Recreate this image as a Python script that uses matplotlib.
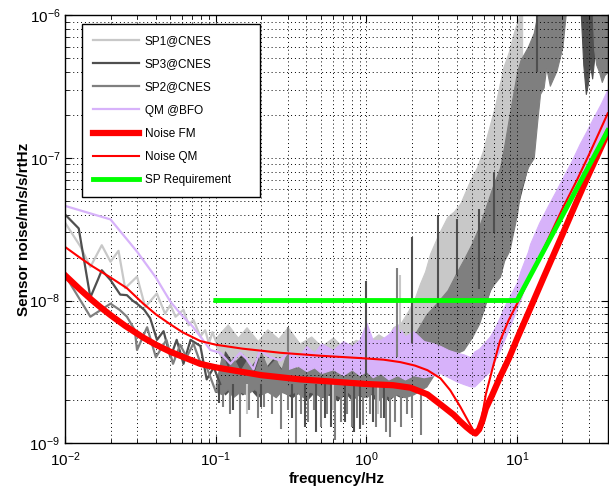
import numpy as np
import matplotlib
matplotlib.use("Agg")
import matplotlib.pyplot as plt
from matplotlib.ticker import NullFormatter, FixedLocator

plt.rcParams['font.family'] = ['Liberation Sans', 'DejaVu Sans']
plt.rcParams['mathtext.default'] = 'regular'

# ---- SP1 @ CNES (light grey) ----
sp1_f_low = [0.010, 0.0126, 0.0147, 0.0175, 0.020, 0.0226, 0.025, 0.030, 0.034, 0.0406,
             0.046, 0.050, 0.054, 0.061, 0.066, 0.071, 0.079, 0.085, 0.090, 0.095, 0.100]
sp1_v_low = [3.5e-8, 2.4e-8, 1.72e-8, 2.44e-8, 1.87e-8, 2.23e-8, 1.22e-8, 1.47e-8, 9.0e-9, 1.12e-8,
             8.1e-9, 9.3e-9, 7.7e-9, 8.6e-9, 6.7e-9, 7.3e-9, 5.6e-9, 6.2e-9, 5.0e-9, 6.0e-9, 5.2e-9]
sp1_f_band = [0.10, 0.12, 0.14, 0.16, 0.19, 0.22, 0.26, 0.30, 0.36, 0.43, 0.5, 0.6, 0.7, 0.85,
              1.0, 1.2, 1.37, 1.5, 1.68, 1.9, 2.1, 2.27, 2.45, 2.65, 3.0, 3.45, 3.8, 4.2, 4.9,
              5.4, 5.9, 6.5, 7.2, 8.1, 8.8, 9.5, 10.2, 10.8]
sp1_band_hi = [5.5e-9, 6.8e-9, 5.5e-9, 6.5e-9, 5.2e-9, 6.3e-9, 5.4e-9, 6.5e-9, 5.0e-9, 5.6e-9,
               4.8e-9, 5.5e-9, 4.7e-9, 5.3e-9, 5.0e-9, 5.8e-9, 5.3e-9, 6.5e-9, 6.9e-9, 8.5e-9,
               1.05e-8, 1.32e-8, 1.6e-8, 2.14e-8, 2.9e-8, 3.87e-8, 4.2e-8, 4.8e-8, 7.0e-8,
               8.5e-8, 1.1e-7, 1.6e-7, 2.4e-7, 4.3e-7, 5.5e-7, 7.5e-7, 9.5e-7, 1.2e-6]
sp1_band_lo = [4.8e-9, 3.0e-9, 3.1e-9, 2.9e-9, 3.0e-9, 2.8e-9, 2.9e-9, 2.7e-9, 2.8e-9, 2.6e-9,
               2.7e-9, 2.6e-9, 2.5e-9, 2.6e-9, 2.5e-9, 2.6e-9, 2.5e-9, 2.6e-9, 2.8e-9, 3.0e-9,
               3.2e-9, 3.4e-9, 3.6e-9, 4.0e-9, 4.6e-9, 5.5e-9, 6.5e-9, 7.5e-9, 1.0e-8,
               1.2e-8, 1.5e-8, 2.0e-8, 2.8e-8, 4.0e-8, 5.5e-8, 8.0e-8, 1.1e-7, 1.5e-7]
sp1_spike_f = [1.68, 0.16, 0.6, 1.2]
sp1_spike_lo = [6.0e-9, 1.6e-9, 1.7e-9, 1.6e-9]
sp1_spike_hi = [1.5e-8, 2.6e-9, 2.6e-9, 2.6e-9]

# ---- SP3 @ CNES (dark grey) ----
sp3_f_low = [0.010, 0.0123, 0.0147, 0.0165, 0.0175, 0.020, 0.0232, 0.0257, 0.028, 0.030, 0.0335,
             0.0367, 0.0407, 0.045, 0.050, 0.055, 0.061, 0.068, 0.079, 0.087, 0.097, 0.107]
sp3_v_low = [4.0e-8, 3.2e-8, 1.05e-8, 1.4e-8, 1.63e-8, 1.39e-8, 1.1e-8, 1.09e-8, 1.0e-8, 9.5e-9,
             8.6e-9, 7.5e-9, 5.3e-9, 6.1e-9, 4.0e-9, 5.3e-9, 3.6e-9, 5.3e-9, 4.8e-9, 2.8e-9,
             3.4e-9, 2.6e-9]
sp3_f_band = [0.107, 0.115, 0.13, 0.15, 0.17, 0.19, 0.21, 0.24, 0.28, 0.32, 0.36, 0.40, 0.45,
              0.50, 0.56, 0.64, 0.72, 0.80, 0.88, 0.95, 1.05, 1.15, 1.28, 1.4, 1.55, 1.7, 1.9,
              2.2, 2.6, 3.0, 3.5, 4.0, 4.6, 5.2, 6.0, 7.0, 8.0, 9.0, 10.0, 12.0, 14.0, 17.0,
              21.0, 26.0, 26.5, 27.5, 28.6, 29.5, 30.5, 31.5, 32.5, 34.0, 36.0, 40.0]
sp3_band_lo = [2.5e-9, 2.2e-9, 2.5e-9, 2.2e-9, 2.4e-9, 2.1e-9, 2.4e-9, 2.2e-9, 2.3e-9, 2.1e-9,
               2.3e-9, 2.0e-9, 2.3e-9, 2.1e-9, 2.2e-9, 2.0e-9, 2.3e-9, 2.0e-9, 2.2e-9, 2.1e-9,
               2.3e-9, 2.0e-9, 2.2e-9, 2.0e-9, 2.2e-9, 2.1e-9, 2.2e-9, 2.4e-9, 2.8e-9, 3.3e-9,
               4.0e-9, 4.8e-9, 6.0e-9, 7.0e-9, 9.0e-9, 1.4e-8, 1.9e-8, 2.6e-8, 4.5e-8, 9.5e-8,
               3.5e-7, 5.0e-7, 1.2e-6, 2.0e-6, 1.0e-6, 4.5e-7, 2.8e-7, 3.3e-7, 4.5e-7, 3.6e-7,
               5.0e-7, 6.0e-7, 1.0e-6, 2.0e-6]
sp3_band_hi = [2.9e-9, 4.4e-9, 3.6e-9, 4.2e-9, 3.4e-9, 4.0e-9, 3.3e-9, 3.9e-9, 3.2e-9, 3.7e-9,
               3.1e-9, 3.6e-9, 3.0e-9, 3.5e-9, 3.0e-9, 3.4e-9, 2.9e-9, 3.4e-9, 3.0e-9, 3.3e-9,
               3.0e-9, 3.5e-9, 3.1e-9, 3.6e-9, 3.3e-9, 3.8e-9, 4.2e-9, 5.5e-9, 7.5e-9, 8.5e-9,
               1.1e-8, 1.4e-8, 1.8e-8, 2.3e-8, 3.4e-8, 5.5e-8, 9.0e-8, 1.5e-7, 3.0e-7, 5.5e-7,
               1.0e-6, 3e-6, 3e-6, 3e-6, 3e-6, 3e-6, 3e-6, 3e-6, 3e-6, 3e-6,
               3e-6, 3e-6, 3e-6, 3e-6]
sp3_spike_f = [1.0, 2.0, 3.0, 4.0, 5.6, 7.0, 13.6,
               0.105, 0.13, 0.2, 0.32, 0.39, 0.46, 0.53, 0.58, 0.72, 0.83, 0.91, 1.1, 1.3]
sp3_spike_lo = [3.0e-9, 5.0e-9, 9.0e-9, 1.5e-8, 1.2e-8, 3.0e-8, 4.0e-7,
                1.9e-9, 1.7e-9, 1.8e-9, 1.5e-9, 1.3e-9, 1.2e-9, 1.5e-9, 1.3e-9, 1.4e-9, 1.2e-9,
                1.25e-9, 1.4e-9, 1.5e-9]
sp3_spike_hi = [1.38e-8, 2.8e-8, 4.0e-8, 3.7e-8, 4.4e-8, 8.0e-8, 1.0e-6,
                2.6e-9, 2.6e-9, 2.6e-9, 2.6e-9, 2.6e-9, 2.6e-9, 2.6e-9, 2.6e-9, 2.6e-9, 2.6e-9,
                2.6e-9, 2.6e-9, 2.6e-9]

# ---- SP2 @ CNES (medium grey) ----
sp2_f_low = [0.010, 0.0147, 0.017, 0.020, 0.023, 0.0257, 0.029, 0.030, 0.035, 0.040, 0.047,
             0.052, 0.058, 0.064, 0.071, 0.078, 0.087, 0.100]
sp2_v_low = [1.5e-8, 7.7e-9, 8.5e-9, 9.5e-9, 8.6e-9, 7.7e-9, 6.2e-9, 4.5e-9, 6.5e-9, 4.0e-9,
             5.3e-9, 3.6e-9, 4.9e-9, 4.0e-9, 5.0e-9, 3.8e-9, 3.4e-9, 2.3e-9]
sp2_f_band = [0.10, 0.11, 0.12, 0.13, 0.145, 0.16, 0.18, 0.20, 0.22, 0.25, 0.27, 0.30, 0.34,
              0.38, 0.42, 0.47, 0.52, 0.58, 0.62, 0.68, 0.75, 0.82, 0.9, 1.0, 1.1, 1.2, 1.32,
              1.44, 1.6, 1.8, 2.05, 2.5, 2.9, 3.45, 4.0, 4.4, 5.0, 5.6, 6.6, 7.0, 7.7, 8.2,
              8.9, 10.0, 10.5, 11.8, 12.9, 13.6, 14.2, 15.0, 15.6, 16.5, 18.3, 20.0, 21.0,
              22.0, 31.0, 32.5, 33.5, 35.0, 36.5, 38.0, 40.0]
sp2_band_lo = [2.3e-9, 2.2e-9, 2.4e-9, 2.1e-9, 2.3e-9, 2.2e-9, 2.4e-9, 2.2e-9, 2.3e-9, 2.1e-9,
               2.3e-9, 2.2e-9, 2.3e-9, 2.1e-9, 2.3e-9, 2.2e-9, 2.1e-9, 2.3e-9, 2.2e-9, 2.1e-9,
               2.3e-9, 2.1e-9, 2.2e-9, 2.1e-9, 2.3e-9, 2.0e-9, 2.2e-9, 2.1e-9, 2.2e-9, 2.1e-9,
               2.2e-9, 2.5e-9, 3.2e-9, 4.0e-9, 4.3e-9, 4.5e-9, 5.5e-9, 6.9e-9, 1.18e-8, 1.3e-8,
               1.47e-8, 1.9e-8, 2.25e-8, 4.07e-8, 5.9e-8, 8.6e-8, 1.0e-7, 1.8e-7, 2.8e-7, 3.1e-7,
               4.3e-7, 3.2e-7, 4.1e-7, 6.0e-7, 1.0e-6, 2.0e-6, 2.0e-6, 5.7e-7, 4.5e-7, 4.0e-7,
               3.4e-7, 3.8e-7, 4.0e-7]
sp2_band_hi = [2.6e-9, 4.2e-9, 3.3e-9, 4.0e-9, 3.2e-9, 3.8e-9, 3.1e-9, 4.3e-9, 3.4e-9, 3.9e-9,
               3.2e-9, 4.5e-9, 3.3e-9, 3.8e-9, 3.2e-9, 4.2e-9, 3.4e-9, 3.7e-9, 3.0e-9, 3.9e-9,
               3.3e-9, 3.6e-9, 3.1e-9, 3.8e-9, 3.2e-9, 3.9e-9, 3.4e-9, 4.0e-9, 4.6e-9, 4.5e-9,
               5.6e-9, 8.0e-9, 9.5e-9, 1.18e-8, 1.6e-8, 1.92e-8, 2.5e-8, 3.3e-8, 5.5e-8, 6.6e-8,
               8.5e-8, 1.2e-7, 2.0e-7, 4.0e-7, 4.8e-7, 6.0e-7, 7.5e-7, 1.0e-6, 3e-6, 3e-6,
               3e-6, 3e-6, 3e-6, 3e-6, 3e-6, 3e-6, 3e-6, 3e-6, 3e-6, 3e-6,
               3e-6, 3e-6, 3e-6]
sp2_spike_f = [0.30, 1.6,
               0.112, 0.125, 0.145, 0.165, 0.19, 0.21, 0.235, 0.27, 0.30, 0.34, 0.37, 0.41,
               0.45, 0.50, 0.55, 0.62, 0.68, 0.74, 0.80, 0.87, 0.95, 1.05, 1.15, 1.25, 1.35,
               1.44, 1.55, 1.7, 1.85, 2.0, 2.3]
sp2_spike_lo = [3.0e-9, 4.0e-9,
                1.8e-9, 1.6e-9, 1.1e-9, 1.7e-9, 1.5e-9, 1.8e-9, 1.6e-9, 1.25e-9, 1.7e-9, 1.0e-9,
                1.6e-9, 1.4e-9, 1.7e-9, 1.3e-9, 1.6e-9, 1.05e-9, 1.4e-9, 1.6e-9, 1.3e-9,
                1.5e-9, 1.35e-9, 1.6e-9, 1.3e-9, 1.5e-9, 1.2e-9, 1.1e-9, 1.4e-9, 1.3e-9,
                1.6e-9, 1.5e-9, 1.15e-9]
sp2_spike_hi = [6.5e-9, 1.7e-8,
                2.5e-9, 2.5e-9, 2.5e-9, 2.5e-9, 2.5e-9, 2.5e-9, 2.5e-9, 2.5e-9, 2.5e-9, 2.5e-9,
                2.5e-9, 2.5e-9, 2.5e-9, 2.5e-9, 2.5e-9, 2.5e-9, 2.5e-9, 2.5e-9, 2.5e-9,
                2.5e-9, 2.5e-9, 2.5e-9, 2.5e-9, 2.5e-9, 2.5e-9, 2.5e-9, 2.5e-9, 2.5e-9,
                2.5e-9, 2.5e-9, 2.5e-9]

# ---- QM @ BFO (lilac) ----
qm_f_low = [0.01, 0.02, 0.03, 0.04, 0.05, 0.06, 0.07, 0.08, 0.092, 0.107, 0.125, 0.145, 0.16,
            0.178, 0.197, 0.23, 0.27, 0.30]
qm_v_low = [4.6e-8, 3.7e-8, 2.2e-8, 1.45e-8, 9.8e-9, 7.8e-9, 6.6e-9, 5.5e-9, 4.5e-9, 4.3e-9,
            3.6e-9, 4.3e-9, 3.9e-9, 3.3e-9, 4.5e-9, 4.0e-9, 3.8e-9, 4.3e-9]
qm_f_band = [0.30, 0.35, 0.4, 0.45, 0.5, 0.6, 0.7, 0.8, 0.9, 1.0, 1.1, 1.24, 1.4, 1.6, 1.8,
             2.05, 2.4, 2.8, 3.1, 3.5, 4.0, 4.4, 4.9, 5.2, 5.6, 6.0, 6.6, 7.2, 7.7, 8.4, 8.9,
             10.0, 10.5, 11.8, 12.2, 14, 16, 18, 20, 23, 26, 29, 32, 36, 40]
qm_band_hi = [4.5e-9, 4.0e-9, 4.8e-9, 4.3e-9, 5.0e-9, 4.5e-9, 5.2e-9, 4.8e-9, 5.3e-9, 7.0e-9,
              5.3e-9, 5.3e-9, 5.8e-9, 6.8e-9, 5.6e-9, 6.1e-9, 5.2e-9, 5.0e-9, 4.8e-9, 4.5e-9,
              4.3e-9, 4.2e-9, 4.0e-9, 4.4e-9, 4.6e-9, 5.0e-9, 5.6e-9, 6.6e-9, 7.7e-9, 9.5e-9,
              1.06e-8, 1.35e-8, 1.6e-8, 2.2e-8, 2.5e-8, 3.5e-8, 4.6e-8, 5.8e-8, 7.2e-8, 9.5e-8,
              1.25e-7, 1.55e-7, 1.9e-7, 2.4e-7, 3.05e-7]
qm_band_lo = [3.3e-9, 3.5e-9, 3.2e-9, 3.4e-9, 3.1e-9, 3.3e-9, 3.0e-9, 3.3e-9, 3.0e-9, 3.2e-9,
              2.9e-9, 3.1e-9, 2.8e-9, 3.0e-9, 2.8e-9, 3.0e-9, 2.9e-9, 3.0e-9, 3.1e-9, 2.9e-9,
              2.7e-9, 2.6e-9, 2.5e-9, 2.5e-9, 2.7e-9, 2.9e-9, 3.2e-9, 3.9e-9, 4.5e-9, 5.6e-9,
              6.5e-9, 8.9e-9, 1.0e-8, 1.47e-8, 1.6e-8, 2.1e-8, 2.8e-8, 3.5e-8, 4.0e-8, 5.3e-8,
              6.8e-8, 8.5e-8, 1.03e-7, 1.3e-7, 1.6e-7]

# ---- Noise models and requirement ----
fm_f = [0.01, 0.0125, 0.015, 0.0171, 0.02, 0.025, 0.033, 0.04, 0.05, 0.0788, 0.1, 0.2, 0.364,
        0.6, 1.0, 1.5, 1.96, 2.54, 3.25, 3.8, 4.2, 4.6, 5.0, 5.3, 5.6, 5.9, 6.2, 6.8, 7.7, 8.8,
        10, 12, 15, 20, 25, 30, 35, 40]
fm_v = [1.5e-8, 1.2e-8, 1.01e-8, 9.0e-9, 7.9e-9, 6.65e-9, 5.5e-9, 4.9e-9, 4.37e-9, 3.6e-9,
        3.4e-9, 3.0e-9, 2.8e-9, 2.7e-9, 2.6e-9, 2.55e-9, 2.45e-9, 2.2e-9, 1.8e-9, 1.58e-9,
        1.42e-9, 1.3e-9, 1.21e-9, 1.17e-9, 1.25e-9, 1.45e-9, 1.75e-9, 2.15e-9, 2.9e-9, 3.9e-9,
        5.4e-9, 8.4e-9, 1.45e-8, 2.9e-8, 5.0e-8, 7.7e-8, 1.1e-7, 1.5e-7]
qmn_f = [0.01, 0.0125, 0.015, 0.02, 0.0257, 0.033, 0.04, 0.05, 0.06, 0.079, 0.1, 0.15, 0.27,
         0.5, 0.91, 1.3, 1.68, 2.1, 2.54, 3.1, 3.6, 4.2, 4.7, 5.1, 5.4, 5.7, 6.2, 7.0, 7.7, 8.8,
         10, 12, 15, 20, 25, 30, 35, 40]
qmn_v = [2.37e-8, 2.0e-8, 1.75e-8, 1.45e-8, 1.22e-8, 9.5e-9, 8.0e-9, 6.8e-9, 6.0e-9, 5.2e-9,
         4.9e-9, 4.6e-9, 4.3e-9, 4.1e-9, 3.95e-9, 3.85e-9, 3.7e-9, 3.5e-9, 3.25e-9, 2.85e-9,
         2.35e-9, 1.8e-9, 1.45e-9, 1.24e-9, 1.18e-9, 1.3e-9, 2.2e-9, 3.6e-9, 5.2e-9, 7.3e-9,
         9.5e-9, 1.4e-8, 2.3e-8, 4.4e-8, 7.0e-8, 1.05e-7, 1.5e-7, 2.05e-7]
req_f = [0.1, 10, 40]
req_v = [1e-8, 1e-8, 1.55e-7]

x_major = [1e-2, 1e-1, 1e0, 1e1]
y_major = [1e-9, 1e-8, 1e-7, 1e-6]

c_sp1 = '#c8c8c8'
c_sp3 = '#4f4f4f'
c_sp2 = '#7f7f7f'
c_qm = '#d7b2fa'


def noisy_trace(ax, f_low, v_low, f_band, lo, hi, color, label, sf=None, slo=None, shi=None):
    line, = ax.plot(f_low, v_low, color=color, lw=1.6, label=label)
    ax.fill_between(f_band, lo, hi, facecolor=color, edgecolor=color, lw=0.8)
    if sf is not None:
        ax.vlines(sf, slo, shi, color=color, lw=1.5)
    return line


fig = plt.figure(figsize=(6.09, 4.86), dpi=100)
ax = fig.add_axes([0.107, 0.088, 0.891, 0.881])

h1 = noisy_trace(ax, sp1_f_low, sp1_v_low, sp1_f_band, sp1_band_lo, sp1_band_hi, c_sp1,
                 'SP1@CNES', sp1_spike_f, sp1_spike_lo, sp1_spike_hi)
h3 = noisy_trace(ax, sp3_f_low, sp3_v_low, sp3_f_band, sp3_band_lo, sp3_band_hi, c_sp3,
                 'SP3@CNES', sp3_spike_f, sp3_spike_lo, sp3_spike_hi)
h2 = noisy_trace(ax, sp2_f_low, sp2_v_low, sp2_f_band, sp2_band_lo, sp2_band_hi, c_sp2,
                 'SP2@CNES', sp2_spike_f, sp2_spike_lo, sp2_spike_hi)
hq = noisy_trace(ax, qm_f_low, qm_v_low, qm_f_band, qm_band_lo, qm_band_hi, c_qm, 'QM @BFO')

hfm, = ax.plot(fm_f, fm_v, color='#ff0000', lw=4.5, label='Noise FM')
hqm, = ax.plot(qmn_f, qmn_v, color='#ff0000', lw=1.5, label='Noise QM')
hreq, = ax.plot(req_f, req_v, color='#00ff00', lw=3.5, label='SP Requirement')

ax.set_xscale('log')
ax.set_yscale('log')
ax.set_xlim(0.01, 40)
ax.set_ylim(1e-9, 1e-6)
ax.xaxis.set_major_locator(FixedLocator(x_major))
ax.yaxis.set_major_locator(FixedLocator(y_major))
ax.xaxis.set_minor_formatter(NullFormatter())
ax.yaxis.set_minor_formatter(NullFormatter())

ax.grid(True, which='both', linestyle=(0, (1, 3)), color='k', linewidth=0.7)
ax.tick_params(which='both', direction='in', top=True, right=True, labelsize=11)
ax.tick_params(which='major', length=5)
ax.tick_params(which='minor', length=3)
ax.tick_params(axis='x', pad=5)
for s in ax.spines.values():
    s.set_linewidth(1.0)

ax.set_xlabel('frequency/Hz', fontsize=11, fontweight='bold', labelpad=2)
ax.set_ylabel('Sensor noise/m/s/s/rtHz', fontsize=11, fontweight='bold', labelpad=-1)

leg = ax.legend(handles=[h1, h3, h2, hq, hfm, hqm, hreq], loc='upper left',
                bbox_to_anchor=(0.031, 0.586, 0.328, 0.393), mode='expand',
                borderaxespad=0, fontsize=8.5, handlelength=3.9, handletextpad=0.45,
                labelspacing=0.94, borderpad=0.95,
                fancybox=False, framealpha=1, edgecolor='k')
leg.get_frame().set_linewidth(1.0)

fig.savefig('out.png', dpi=100)
